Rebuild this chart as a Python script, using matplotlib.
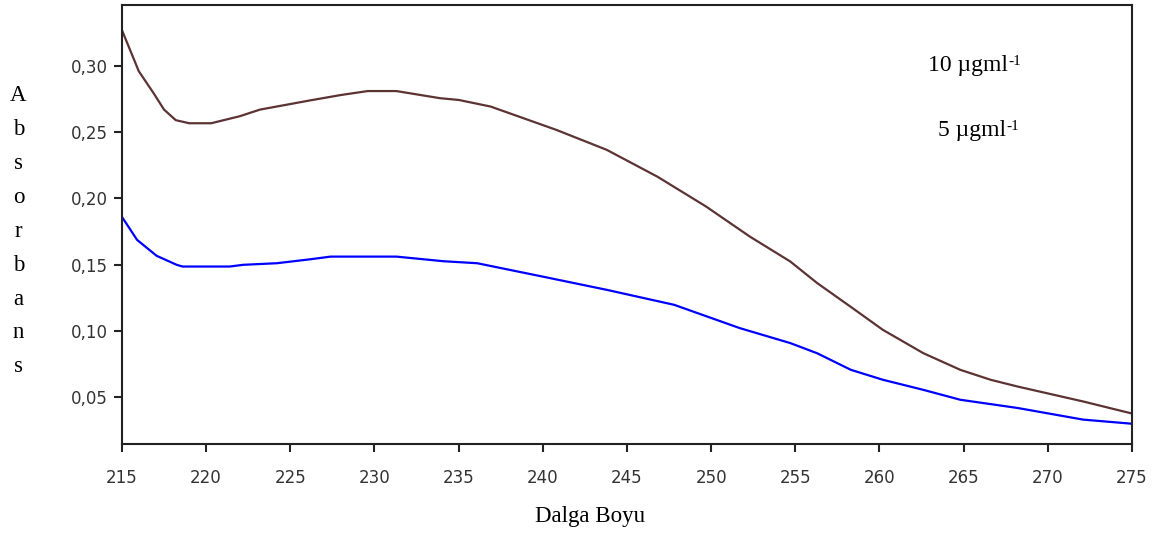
import matplotlib
matplotlib.use("Agg")
import matplotlib.pyplot as plt
from matplotlib.ticker import FuncFormatter

# 10 ugml-1 series (brown)
wl_10 = [215, 216, 216.9, 217.5, 218.2, 219, 220.3, 222, 223.2, 226.2, 228,
         229.6, 231.3, 233.9, 235, 236.9, 240.8, 243.8, 246.8, 249.7, 252.3,
         254.7, 256.3, 258.3, 260.2, 262.6, 264.8, 266.6, 268.2, 272.1, 275]
abs_10 = [0.327, 0.296, 0.279, 0.267, 0.259, 0.2567, 0.2567, 0.262, 0.267, 0.274, 0.278,
          0.281, 0.281, 0.2756, 0.2743, 0.2693, 0.2517, 0.2366, 0.2164, 0.1938, 0.1711,
          0.1523, 0.136, 0.118, 0.1007, 0.0831, 0.0705, 0.063, 0.0579, 0.0466, 0.0375]

# 5 ugml-1 series (blue)
wl_5 = [215, 215.9, 217.06, 218.25, 218.6, 221.4, 222.2, 224.2, 226.2, 227.4, 231.3,
        234.1, 236.1, 239.8, 243.8, 247.8, 251.7, 254.7, 256.3, 258.3, 260.2, 262.6,
        264.8, 268.2, 272.1, 275]
abs_5 = [0.186, 0.1686, 0.1566, 0.1498, 0.1485, 0.1485, 0.1498, 0.151, 0.154, 0.156, 0.156,
         0.1525, 0.151, 0.1414, 0.1309, 0.1196, 0.102, 0.0907, 0.083, 0.0705, 0.063, 0.0554,
         0.0479, 0.0417, 0.0329, 0.0298]

x_ticks = list(range(215, 276, 5))
y_ticks = [0.05, 0.10, 0.15, 0.20, 0.25, 0.30]

fig = plt.figure(figsize=(11.57, 5.35), dpi=100)
ax = fig.add_axes([0.1054, 0.1701, 0.873, 0.8206])

ax.plot(wl_10, abs_10, color="#5c3333", lw=1.6)
ax.plot(wl_5, abs_5, color="#0000ff", lw=1.6)

ax.set_xlim(215, 275)
ax.set_ylim(0.0145, 0.346)
ax.set_xticks(x_ticks)
ax.set_yticks(y_ticks)
ax.yaxis.set_major_formatter(FuncFormatter(lambda v, p: f"{v:.2f}".replace(".", ",")))

for s in ax.spines.values():
    s.set_linewidth(1.5)
    s.set_color("#222222")
ax.tick_params(axis="both", direction="out", length=6, width=1.5, color="#222222",
               labelsize=12, labelcolor="#333333")
ax.tick_params(axis="x", pad=12)
ax.tick_params(axis="y", pad=4)
for lab in ax.get_xticklabels() + ax.get_yticklabels():
    lab.set_family("DejaVu Sans")

serif = "Liberation Serif"
fig.text(0.510, 0.035, "Dalga Boyu", family=serif, fontsize=16.5, ha="center", va="center")
fig.text(0.016, 0.568, "\n".join("Absorbans"), family=serif, fontsize=16.5,
         ha="center", va="center", linespacing=1.81)

# concentration labels, superscript drawn as its own small text
for label, x, y in [("10 µgml", 0.838, 0.863), ("5 µgml", 0.842, 0.715)]:
    t = ax.text(x, y, label, transform=ax.transAxes, family=serif, fontsize=17,
                ha="center", va="center")
    ax.annotate("-1", xy=(1.0, 1.0), xycoords=t, family=serif, fontsize=11,
                ha="left", va="top")

fig.savefig("out.png", dpi=100)
